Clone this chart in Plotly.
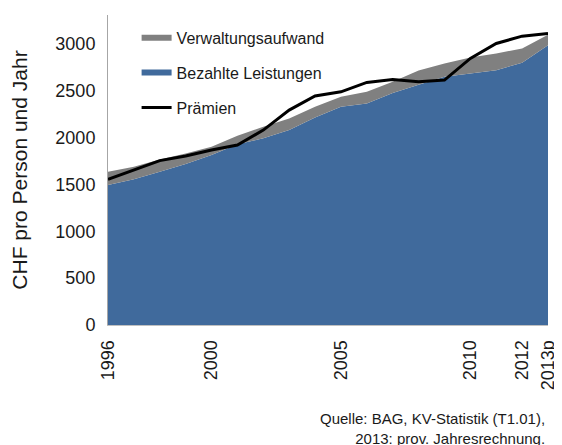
import plotly.graph_objects as go

years = list(range(1996, 2014))
leistungen = [1495, 1555, 1636, 1718, 1814, 1930, 1993, 2081, 2215, 2330,
              2366, 2476, 2565, 2650, 2686, 2721, 2800, 2988]
verwaltung = [141, 135, 132, 114, 89, 90, 124, 125, 115, 107,
              124, 121, 153, 143, 171, 179, 153, 112]
praemien = [1555, 1654, 1755, 1804, 1868, 1921, 2081, 2295, 2445, 2490,
            2590, 2622, 2597, 2615, 2846, 3006, 3084, 3113]

tick_years = [1996, 2000, 2005, 2010, 2012, 2013]
tick_labels = ["1996", "2000", "2005", "2010", "2012", "2013p"]
y_ticks = [0, 500, 1000, 1500, 2000, 2500, 3000]

FONT = "Liberation Sans, Arial, sans-serif"
TXT = "#1a1a1a"

fig = go.Figure()
fig.add_trace(go.Scatter(
    x=years, y=leistungen, name="Bezahlte Leistungen", stackgroup="one",
    mode="none", fillcolor="#406a9c", legendrank=2, legendgroup="b",
))
fig.add_trace(go.Scatter(
    x=years, y=verwaltung, name="Verwaltungsaufwand", stackgroup="one",
    mode="none", fillcolor="#808080", legendrank=1, legendgroup="a",
))
fig.add_trace(go.Scatter(
    x=years, y=praemien, name="Prämien", mode="lines",
    line=dict(color="#000000", width=3), legendrank=3, legendgroup="c",
))

fig.update_layout(
    width=562, height=445,
    margin=dict(l=100, r=22, t=7, b=128, autoexpand=False),
    paper_bgcolor="white", plot_bgcolor="white",
    font=dict(family=FONT, color=TXT, size=18),
    showlegend=True,
    legend=dict(x=0.065, y=0.981, xanchor="left", yanchor="top",
                bgcolor="rgba(0,0,0,0)", font=dict(size=16, color=TXT),
                tracegroupgap=11, itemwidth=30),
    xaxis=dict(range=[1996, 2013], tickvals=tick_years, ticktext=tick_labels,
               tickangle=-90, showgrid=False, zeroline=False,
               showline=True, linecolor="#c0c0c0", linewidth=1,
               ticks="", ticklabelstandoff=7, tickfont=dict(size=18),
               automargin=False),
    yaxis=dict(range=[0, 3310], tickvals=y_ticks, showgrid=False,
               zeroline=False, showline=True, linecolor="#a6a6a6",
               linewidth=1, ticks="", ticklabelstandoff=8,
               tickfont=dict(size=18), automargin=False,
               title=dict(text="CHF pro Person und Jahr",
                          font=dict(size=21), standoff=24)),
    annotations=[dict(
        text="Quelle: BAG, KV-Statistik (T1.01),<br>2013: prov. Jahresrechnung.",
        xref="paper", yref="paper", x=0.998, y=-0.335,
        xanchor="right", yanchor="middle", align="right", showarrow=False,
        font=dict(size=15, color=TXT),
    )],
)

fig.write_html("out.html")
